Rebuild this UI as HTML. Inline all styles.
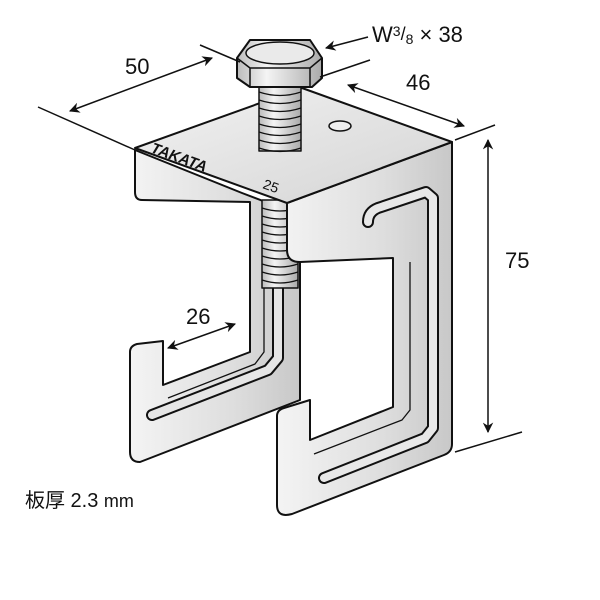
<!DOCTYPE html>
<html><head><meta charset="utf-8"><style>
html,body{margin:0;padding:0;background:#fff}
svg{display:block}
text{font-family:"Liberation Sans","Noto Sans CJK JP",sans-serif;fill:#111}
</style></head><body>
<svg width="600" height="600" viewBox="0 0 600 600" xmlns="http://www.w3.org/2000/svg">
<defs>
<linearGradient id="g1" x1="0" y1="0" x2="1" y2="0"><stop offset="0" stop-color="#f4f4f4"/><stop offset="0.6" stop-color="#dedede"/><stop offset="1" stop-color="#c8c8c8"/></linearGradient>
<linearGradient id="g2" x1="0" y1="0" x2="1" y2="1"><stop offset="0" stop-color="#f2f2f2"/><stop offset="1" stop-color="#d4d4d4"/></linearGradient>
<linearGradient id="gb" x1="0" y1="0" x2="1" y2="0"><stop offset="0" stop-color="#bbb"/><stop offset="0.35" stop-color="#f4f4f4"/><stop offset="1" stop-color="#aaa"/></linearGradient>
<marker id="ar" viewBox="0 0 10 10" refX="9" refY="5" markerWidth="7" markerHeight="7" orient="auto-start-reverse"><path d="M0,0 L10,5 L0,10 L3,5 z" fill="#111"/></marker>
</defs>
<g stroke="#111" stroke-width="2" stroke-linejoin="round">
<!-- back C plate -->
<path d="M135,150 L242,193 L300,215 L300,400 L140,462 Q130,462 130,452 L130,352 Q130,346 137,344 L163,341 L163,385 L250,352 L250,202 L142,200 Q135,200 135,192 Z" fill="url(#g1)"/>
<path d="M168,398 L255,364 L264,352 L264,205" fill="none" stroke-width="1.3"/>
<path d="M152,415 L268,370 L278,358 L278,205" fill="none" stroke="#111" stroke-width="12" stroke-linecap="round"/>
<path d="M152,415 L268,370 L278,358 L278,205" fill="none" stroke="#e6e6e6" stroke-width="8" stroke-linecap="round"/>
<!-- lower bolt shaft -->
<rect x="262" y="200" width="36" height="88" fill="url(#gb)" stroke-width="1.5"/>
<g stroke-width="1.2" fill="none">
<path d="M262,208 q18,6 36,0 M262,216 q18,6 36,0 M262,224 q18,6 36,0 M262,232 q18,6 36,0 M262,240 q18,6 36,0 M262,248 q18,6 36,0 M262,256 q18,6 36,0 M262,264 q18,6 36,0 M262,272 q18,6 36,0 M262,280 q18,6 36,0"/>
</g>
<!-- front plate -->
<path d="M287,203 L452,142 L452,444 Q452,452 444,455 L292,514 Q277,518 277,505 L277,416 Q277,410 284,408 L310,400 L310,440 L393,407 L393,258 L300,262 Q287,262 287,250 Z" fill="url(#g1)"/>
<path d="M314,454 L402,420 L410,410 L410,262" fill="none" stroke-width="1.3"/>
<path d="M324,478 L425,438 L433,428 L433,198 L426,192 L378,208 Q368,212 368,222" fill="none" stroke="#111" stroke-width="12" stroke-linecap="round" stroke-linejoin="round"/>
<path d="M324,478 L425,438 L433,428 L433,198 L426,192 L378,208 Q368,212 368,222" fill="none" stroke="#e8e8e8" stroke-width="8" stroke-linecap="round" stroke-linejoin="round"/>
<!-- top plate -->
<path d="M135,148 L302,88 L452,142 L287,203 Z" fill="url(#g2)"/>
<ellipse cx="340" cy="126" rx="11" ry="5" fill="#eee" stroke-width="1.5"/>
<!-- upper bolt shaft -->
<rect x="259" y="85" width="42" height="66" fill="url(#gb)" stroke-width="1.5"/>
<path d="M259,92 q21,7 42,0 M259,100 q21,7 42,0 M259,108 q21,7 42,0 M259,116 q21,7 42,0 M259,124 q21,7 42,0 M259,132 q21,7 42,0 M259,140 q21,7 42,0 M259,148 q21,7 42,0" fill="none" stroke-width="1.2"/>
<!-- hex head -->
<path d="M237,58 L250,40 L310,40 L322,58 L322,78 L312,87 L250,87 L237,78 Z" fill="url(#gb)"/>
<path d="M237,58 L250,68 L310,68 L322,58 M250,68 L250,87 M310,68 L310,87" fill="none" stroke-width="1.5"/>
<ellipse cx="280" cy="53" rx="34" ry="11" fill="#eaeaea" stroke-width="1.5"/>
</g>
<text x="150" y="152" font-size="15" font-weight="bold" transform="rotate(20 150 152)" font-style="italic">TAKATA</text>
<text x="262" y="188" font-size="14" transform="rotate(20 262 188)" fill="#333">25</text>
<!-- dimensions -->
<g stroke="#111" stroke-width="1.5" fill="none">
<line x1="38" y1="107" x2="135" y2="150"/>
<line x1="200" y1="45" x2="240" y2="62"/>
<line x1="70" y1="111" x2="212" y2="58" marker-start="url(#ar)" marker-end="url(#ar)"/>
<line x1="320" y1="77" x2="370" y2="60"/>
<line x1="455" y1="140" x2="495" y2="125"/>
<line x1="348" y1="85" x2="464" y2="126" marker-start="url(#ar)" marker-end="url(#ar)"/>
<line x1="455" y1="452" x2="522" y2="432"/>
<line x1="488" y1="140" x2="488" y2="432" marker-start="url(#ar)" marker-end="url(#ar)"/>
<line x1="168" y1="348" x2="235" y2="324" marker-start="url(#ar)" marker-end="url(#ar)"/>
<line x1="368" y1="37" x2="326" y2="48" marker-end="url(#ar)"/>
</g>
<text x="125" y="74" font-size="22">50</text>
<text x="406" y="90" font-size="22">46</text>
<text x="505" y="268" font-size="22">75</text>
<text x="186" y="324" font-size="22">26</text>
<text x="372" y="42" font-size="22">W<tspan font-size="14" dy="-6">3</tspan><tspan font-size="18" dy="4">/</tspan><tspan font-size="14" dy="4">8</tspan><tspan dy="-2"> × 38</tspan></text>
<text x="25" y="507" font-size="20">板厚 2.3 <tspan font-size="18">mm</tspan></text>
</svg>
</body></html>
